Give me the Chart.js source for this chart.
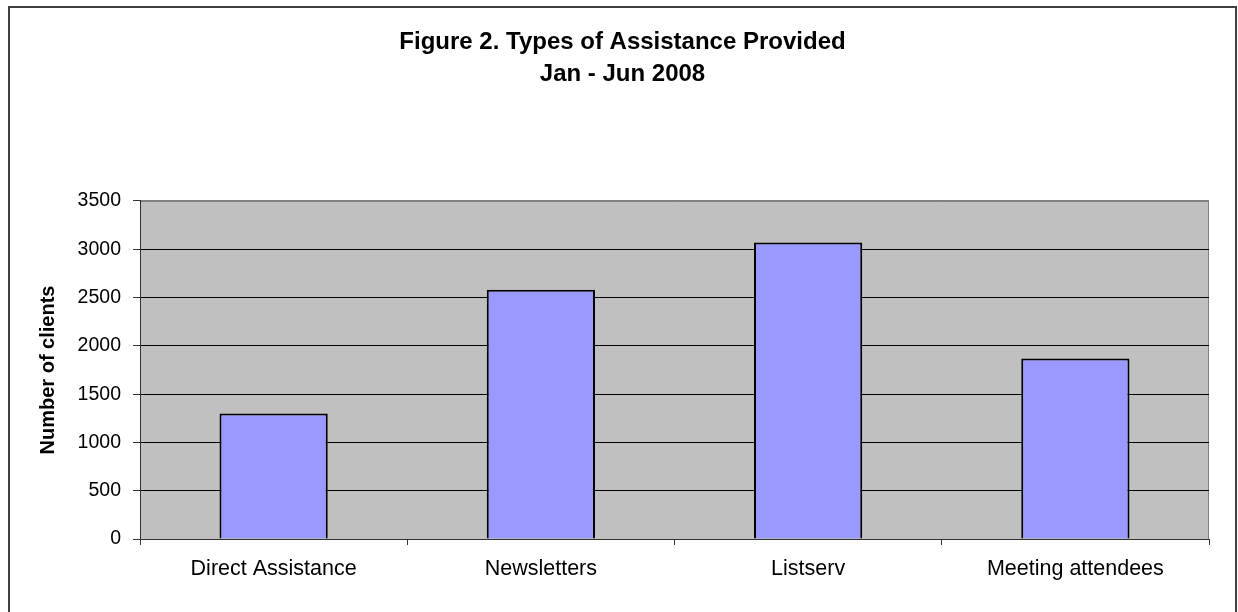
<!DOCTYPE html>
<html>
<head>
<meta charset="utf-8">
<title>Figure 2. Types of Assistance Provided</title>
<script src="https://cdn.jsdelivr.net/npm/chart.js@4.4.0/dist/chart.umd.min.js"></script>
<style>
    html, body { margin: 0; padding: 0; background: #fff; }
    .chart-wrap { width: 1238px; height: 612px; position: relative; }
</style>
</head>
<body>
<div class="chart-wrap">
    <canvas id="main-chart"></canvas>
</div>
<script>
// === Dữ liệu biểu đồ ===
const categories = ['Direct Assistance', 'Newsletters', 'Listserv', 'Meeting attendees'];
const clientCounts = [1300, 2580, 3070, 1870];
const yTicks = [0, 500, 1000, 1500, 2000, 2500, 3000, 3500];
const titleLines = ['Figure 2. Types of Assistance Provided', 'Jan - Jun 2008'];
const yAxisLabel = 'Number of clients';

document.addEventListener('DOMContentLoaded', () => {

    const chartCanvas = document.getElementById('main-chart');
    const FONT = '"Liberation Sans", Arial, Helvetica, sans-serif';

    // Khung ngoài + nền xám của vùng vẽ
    const backgroundPlugin = {
        id: 'excelBackground',
        beforeDraw(chart) {
            const { ctx, chartArea: a } = chart;
            ctx.save();
            ctx.fillStyle = '#ffffff';
            ctx.fillRect(0, 0, chart.width, chart.height);

            ctx.strokeStyle = '#404040';
            ctx.lineWidth = 2;
            ctx.strokeRect(9, 7, 1227, chart.height + 20);

            ctx.fillStyle = '#c0c0c0';
            ctx.fillRect(a.left, a.top, a.right - a.left, a.bottom - a.top);
            ctx.strokeStyle = '#808080';
            ctx.lineWidth = 1;
            ctx.beginPath();
            ctx.moveTo(a.left, a.top + 0.5);
            ctx.lineTo(a.right - 0.5, a.top + 0.5);
            ctx.lineTo(a.right - 0.5, a.bottom);
            ctx.stroke();
            ctx.restore();
        }
    };

    new Chart(chartCanvas, {
        type: 'bar',
        data: {
            labels: categories,
            datasets: [{
                label: yAxisLabel,
                data: clientCounts,
                backgroundColor: '#9999ff',
                borderColor: '#000000',
                borderWidth: 2,
                barPercentage: 0.405,
                categoryPercentage: 1
            }]
        },
        options: {
            responsive: true,
            maintainAspectRatio: false,
            animation: false,
            layout: {
                padding: { top: 6, left: 36, right: 29, bottom: 0 }
            },
            scales: {
                x: {
                    afterFit: (scale) => { scale.height = 73; },
                    grid: {
                        offset: true,
                        drawOnChartArea: false,
                        drawTicks: true,
                        tickLength: 6,
                        tickColor: '#333333'
                    },
                    border: { display: true, color: '#333333', width: 1 },
                    ticks: {
                        color: '#000000',
                        padding: 11,
                        font: { family: FONT, size: 21.5 }
                    }
                },
                y: {
                    min: 0,
                    max: 3500,
                    afterFit: (scale) => { scale.width = 104; },
                    afterBuildTicks: (scale) => {
                        scale.ticks = yTicks.map(v => ({ value: v }));
                    },
                    grid: {
                        color: (c) => (c.tick && c.tick.value === 3500 ? '#808080' : '#000000'),
                        lineWidth: 1,
                        drawTicks: true,
                        tickLength: 7,
                        tickColor: '#333333'
                    },
                    border: { display: true, color: '#333333', width: 1 },
                    ticks: {
                        color: '#000000',
                        padding: 12,
                        font: { family: FONT, size: 19.5 },
                        callback: (value) => String(value)
                    },
                    title: {
                        display: true,
                        text: yAxisLabel,
                        color: '#000000',
                        padding: 0,
                        font: { family: FONT, size: 20, weight: 'bold' }
                    }
                }
            },
            plugins: {
                legend: { display: false },
                tooltip: { enabled: false },
                title: {
                    display: true,
                    text: titleLines,
                    color: '#000000',
                    padding: { top: 20, bottom: 111 },
                    font: { family: FONT, size: 24, weight: 'bold', lineHeight: 1.3333 }
                }
            }
        },
        plugins: [backgroundPlugin]
    });
});
</script>
</body>
</html>
